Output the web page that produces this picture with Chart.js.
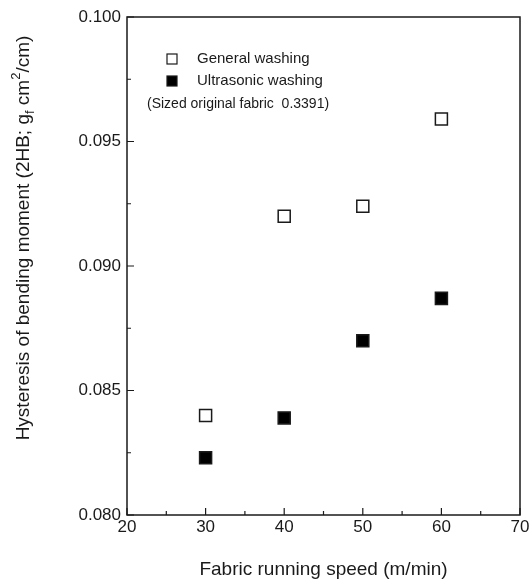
<!DOCTYPE html>
<html lang="en">
<head>
  <meta charset="UTF-8">
  <title>Hysteresis of bending moment</title>
  <script src="https://cdn.jsdelivr.net/npm/chart.js"></script>
  <style>
    body {
      margin: 0;
      background-color: #ffffff;
    }

    .chart-box {
      position: relative;
      width: 532px;
      height: 585px;
    }
  </style>
</head>
<body>
  <div class="chart-box">
    <canvas id="hbChart"></canvas>
  </div>

  <script>
    // values
    const speeds = [30, 40, 50, 60];
    const generalWashing = [0.0840, 0.0920, 0.0924, 0.0959];
    const ultrasonicWashing = [0.0823, 0.0839, 0.0870, 0.0887];
    const seriesNames = ['General washing', 'Ultrasonic washing'];
    const noteText = '(Sized original fabric  0.3391)';
    const xTitle = 'Fabric running speed (m/min)';
    // y title pieces: [text, 'sub' | 'sup' | null]
    const yTitleParts = [
      ['Hysteresis of bending moment (2HB; g', null],
      ['f', 'sub'],
      [' cm', null],
      ['2', 'sup'],
      ['/cm)', null]
    ];

    const ink = '#1a1a1a';
    const fontFamily = 'Arial, "Liberation Sans", sans-serif';

    // ticks pointing into the plot, major + minor, plus the closing box
    const frameTicks = {
      id: 'frameTicks',
      afterDatasetsDraw(chart) {
        const { ctx, chartArea: a, scales: { x, y } } = chart;
        ctx.save();
        ctx.strokeStyle = ink;
        ctx.lineWidth = 1.5;
        ctx.strokeRect(a.left, a.top, a.right - a.left, a.bottom - a.top);

        ctx.lineWidth = 1.2;
        ctx.beginPath();
        for (let v = x.min; v <= x.max; v += 5) {
          const px = x.getPixelForValue(v);
          const len = v % 10 === 0 ? 7 : 4;
          ctx.moveTo(px, a.bottom);
          ctx.lineTo(px, a.bottom - len);
        }
        for (let i = 0; i <= 8; i++) {
          const v = y.min + i * 0.0025;
          const py = y.getPixelForValue(v);
          const len = i % 2 === 0 ? 7 : 4;
          ctx.moveTo(a.left, py);
          ctx.lineTo(a.left + len, py);
        }
        ctx.stroke();
        ctx.restore();
      },
      afterDraw(chart) {
        const { ctx, chartArea: a } = chart;
        const datasets = chart.data.datasets;
        ctx.save();
        ctx.fillStyle = ink;
        ctx.textBaseline = 'middle';

        // legend inside the plot
        ctx.font = '15px ' + fontFamily;
        datasets.forEach((ds, i) => {
          const cy = a.top + 42 + i * 22;
          const cx = a.left + 45;
          ctx.lineWidth = 1.2;
          ctx.strokeStyle = ink;
          ctx.fillStyle = ds.backgroundColor;
          ctx.fillRect(cx - 5, cy - 5, 10, 10);
          ctx.strokeRect(cx - 5, cy - 5, 10, 10);
          ctx.fillStyle = ink;
          ctx.fillText(ds.label, cx + 25, cy);
        });
        ctx.font = '14px ' + fontFamily;
        ctx.fillText(noteText, a.left + 20, a.top + 87);

        // rotated y title with sub/superscript
        const mainFont = '19px ' + fontFamily;
        const smallFont = '13px ' + fontFamily;
        let total = 0;
        yTitleParts.forEach(([t, kind]) => {
          ctx.font = kind ? smallFont : mainFont;
          total += ctx.measureText(t).width;
        });
        ctx.translate(22, (a.top + a.bottom) / 2 - 28);
        ctx.rotate(-Math.PI / 2);
        let cur = -total / 2;
        ctx.textBaseline = 'alphabetic';
        yTitleParts.forEach(([t, kind]) => {
          ctx.font = kind ? smallFont : mainFont;
          const dy = kind === 'sub' ? 12 : kind === 'sup' ? -2 : 7;
          ctx.fillText(t, cur, dy);
          cur += ctx.measureText(t).width;
        });
        ctx.restore();
      }
    };

    const ctx = document.getElementById('hbChart').getContext('2d');
    new Chart(ctx, {
      type: 'scatter',
      data: {
        datasets: [{
          label: seriesNames[0],
          data: speeds.map((s, i) => ({ x: s, y: generalWashing[i] })),
          pointStyle: 'rect',
          pointRadius: 8.5,
          pointHoverRadius: 8.5,
          borderWidth: 1.5,
          borderColor: ink,
          backgroundColor: '#ffffff'
        }, {
          label: seriesNames[1],
          data: speeds.map((s, i) => ({ x: s, y: ultrasonicWashing[i] })),
          pointStyle: 'rect',
          pointRadius: 8.5,
          pointHoverRadius: 8.5,
          borderWidth: 1.5,
          borderColor: ink,
          backgroundColor: '#000000'
        }]
      },
      options: {
        responsive: true,
        maintainAspectRatio: false,
        animation: false,
        layout: { padding: { top: 17, right: 12, left: 0, bottom: 0 } },
        plugins: {
          legend: { display: false },
          tooltip: { enabled: false }
        },
        scales: {
          x: {
            min: 20,
            max: 70,
            ticks: {
              stepSize: 10,
              padding: 2,
              color: ink,
              font: { size: 17, family: fontFamily }
            },
            grid: { display: false, drawTicks: false },
            border: { display: false },
            title: {
              display: true,
              text: xTitle,
              color: ink,
              padding: { top: 0, bottom: 4 },
              font: { size: 19, family: fontFamily }
            },
            afterFit(scale) { scale.height = 70; }
          },
          y: {
            min: 0.080,
            max: 0.100,
            ticks: {
              stepSize: 0.005,
              padding: 6,
              color: ink,
              font: { size: 17, family: fontFamily },
              callback: v => v.toFixed(3)
            },
            grid: { display: false, drawTicks: false },
            border: { display: false },
            afterFit(scale) { scale.width = 127; }
          }
        }
      },
      plugins: [frameTicks]
    });
  </script>
</body>
</html>
